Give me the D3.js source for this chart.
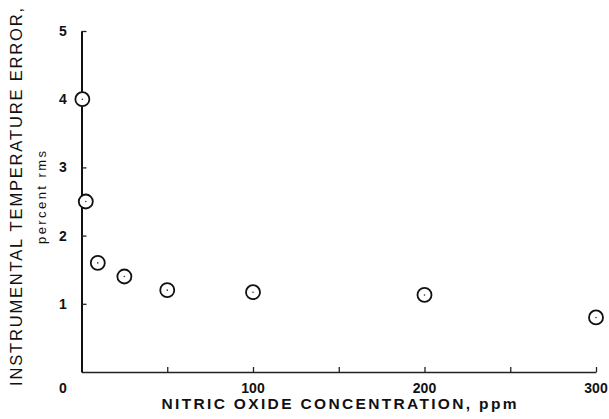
<!DOCTYPE html>
<html><head><meta charset="utf-8">
<script src="https://cdn.jsdelivr.net/npm/d3@7"></script>
<style>body{margin:0;background:#fff}svg{display:block}</style>
</head><body>
<svg id="c" width="609" height="419"></svg>
<script>
const concentration = [0.5, 2.5, 9.5, 25, 50, 100, 200, 300];
const errorRms = [4.0, 2.5, 1.6, 1.4, 1.2, 1.17, 1.13, 0.8];
const xTickValues = [50, 100, 150, 200, 250, 300];
const xTickLabels = [100, 200, 300];
const yTickValues = [1, 2, 3, 4, 5];
const xTitle = "NITRIC OXIDE CONCENTRATION, ppm";
const yTitle = "INSTRUMENTAL TEMPERATURE ERROR,";
const yTitle2 = "percent rms";

const svg = d3.select("#c");
const x = d3.scaleLinear().domain([0, 300]).range([81.5, 596]);
const y = d3.scaleLinear().domain([0, 5]).range([372, 31]);
const font = "'Liberation Sans', Arial, sans-serif";

// axes lines
const xAxis = d3.axisBottom(x).tickValues(xTickValues).tickSizeInner(-5).tickSizeOuter(0).tickFormat("");
const gx = svg.append("g").attr("transform", `translate(0,${y(0)})`).call(xAxis);
gx.select(".domain").attr("stroke", "#222").attr("stroke-width", 1.6);
gx.selectAll(".tick line").attr("stroke", "#222").attr("stroke-width", 1.3);

const yAxis = d3.axisLeft(y).tickValues(yTickValues).tickSizeInner(-5).tickSizeOuter(0).tickFormat("");
const gy = svg.append("g").attr("transform", `translate(${x(0)},0)`).call(yAxis);
gy.select(".domain").attr("stroke", "#111").attr("stroke-width", 2);
gy.selectAll(".tick line").attr("stroke", "#222").attr("stroke-width", 1.3);

// tick labels
svg.append("g").selectAll("text").data(yTickValues).join("text")
  .attr("x", 63).attr("y", d => y(d)).attr("dy", "0.36em")
  .attr("text-anchor", "middle").attr("font-family", font).attr("font-weight", "bold")
  .attr("font-size", 14).attr("fill", "#111").text(d => d);
svg.append("text").attr("x", 63).attr("y", 393).attr("text-anchor", "middle")
  .attr("font-family", font).attr("font-weight", "bold").attr("font-size", 14).attr("fill", "#111").text("0");
svg.append("g").selectAll("text").data(xTickLabels).join("text")
  .attr("x", d => x(d)).attr("y", 393).attr("text-anchor", "middle")
  .attr("font-family", font).attr("font-weight", "bold").attr("font-size", 14).attr("fill", "#111").text(d => d);

// titles
svg.append("text").attr("x", 339).attr("y", 409).attr("text-anchor", "middle")
  .attr("font-family", font).attr("font-weight", "bold").attr("font-size", 15.5).attr("fill", "#111")
  .attr("textLength", 355).attr("lengthAdjust", "spacing").text(xTitle);
svg.append("text").attr("transform", "translate(22,197) rotate(-90)").attr("text-anchor", "middle")
  .attr("font-family", font).attr("font-size", 16.5).attr("fill", "#111")
  .attr("textLength", 378).attr("lengthAdjust", "spacing").text(yTitle);
svg.append("text").attr("transform", "translate(46,197.5) rotate(-90)").attr("text-anchor", "middle")
  .attr("font-family", font).attr("font-size", 13).attr("fill", "#111")
  .attr("textLength", 93).attr("lengthAdjust", "spacing").text(yTitle2);

// points
const pts = concentration.map((c, i) => ({c, e: errorRms[i]}));
const g = svg.append("g");
g.selectAll("circle.o").data(pts).join("circle").attr("class", "o")
  .attr("cx", d => x(d.c)).attr("cy", d => y(d.e)).attr("r", 7)
  .attr("fill", "#fff").attr("stroke", "#111").attr("stroke-width", 1.8);
g.selectAll("circle.d").data(pts).join("circle").attr("class", "d")
  .attr("cx", d => x(d.c)).attr("cy", d => y(d.e)).attr("r", 0.8).attr("fill", "#333");
</script>
</body></html>
